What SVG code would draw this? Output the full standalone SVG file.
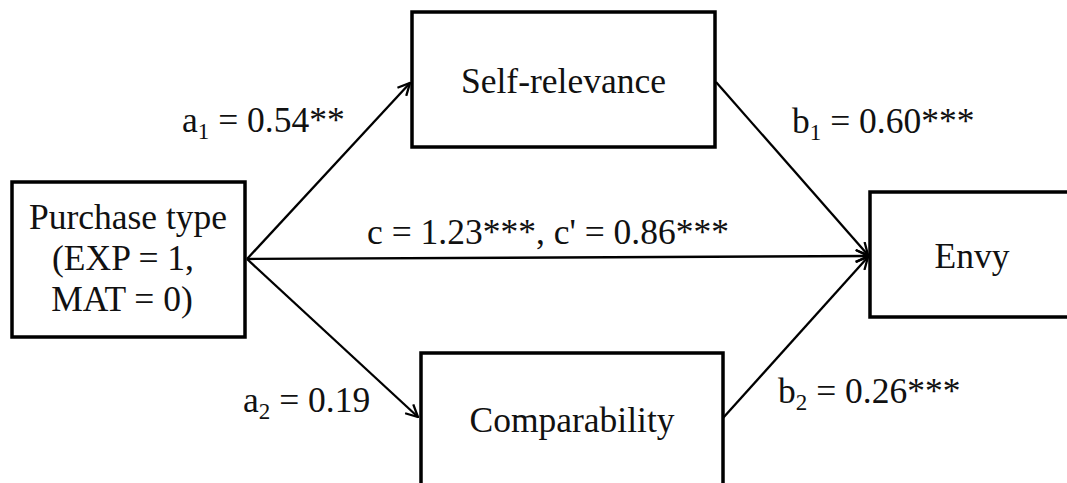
<svg xmlns="http://www.w3.org/2000/svg" width="1067" height="483" viewBox="0 0 1067 483">
<style>
.box{fill:#fff;stroke:#000;stroke-width:3.5}
.t{font-family:"Liberation Serif","Times New Roman",serif;font-size:35.5px;fill:#111}
.c{text-anchor:middle}
.sub{font-size:23px}
.edge{stroke:#000;stroke-width:2.3;fill:none;marker-end:url(#ah)}
</style>
<defs>
<marker id="ah" viewBox="0 0 14 14" refX="13" refY="7" markerWidth="14" markerHeight="14" markerUnits="userSpaceOnUse" orient="auto">
<path d="M1,1 L13,7 L1,13" fill="none" stroke="#000" stroke-width="2.3"/>
</marker>
</defs>
<rect width="1067" height="483" fill="#fff"/>
<g id="connectors">
<line class="edge" x1="247" y1="259" x2="410" y2="83"/>
<line class="edge" x1="247" y1="259" x2="418" y2="417"/>
<line class="edge" x1="247" y1="259" x2="868" y2="256"/>
<line class="edge" x1="716" y1="82" x2="868" y2="255"/>
<line class="edge" x1="723" y1="418" x2="868" y2="257"/>
</g>
<g id="node-purchase">
<rect class="box" x="12" y="182" width="233" height="155"/>
<text class="t c" x="128" y="229">Purchase type</text>
<text class="t c" x="123" y="270">(EXP = 1,</text>
<text class="t c" x="122" y="311">MAT = 0)</text>
</g>
<g id="node-self">
<rect class="box" x="412" y="12" width="303" height="135"/>
<text class="t c" x="563.5" y="93">Self-relevance</text>
</g>
<g id="node-comp">
<rect class="box" x="421" y="353" width="302" height="145"/>
<text class="t c" x="572" y="432">Comparability</text>
</g>
<g id="node-envy">
<rect class="box" x="870" y="192" width="210" height="125"/>
<text class="t c" x="972" y="268">Envy</text>
</g>
<g id="labels">
<text class="t" x="182" y="132">a<tspan class="sub" dy="7">1</tspan><tspan dy="-7"> = 0.54**</tspan></text>
<text class="t" x="792" y="133">b<tspan class="sub" dy="7">1</tspan><tspan dy="-7"> = 0.60***</tspan></text>
<text class="t" x="367" y="244">c = 1.23***, c' = 0.86***</text>
<text class="t" x="243" y="412">a<tspan class="sub" dy="7">2</tspan><tspan dy="-7"> = 0.19</tspan></text>
<text class="t" x="778" y="403">b<tspan class="sub" dy="7">2</tspan><tspan dy="-7"> = 0.26***</tspan></text>
</g>
</svg>
